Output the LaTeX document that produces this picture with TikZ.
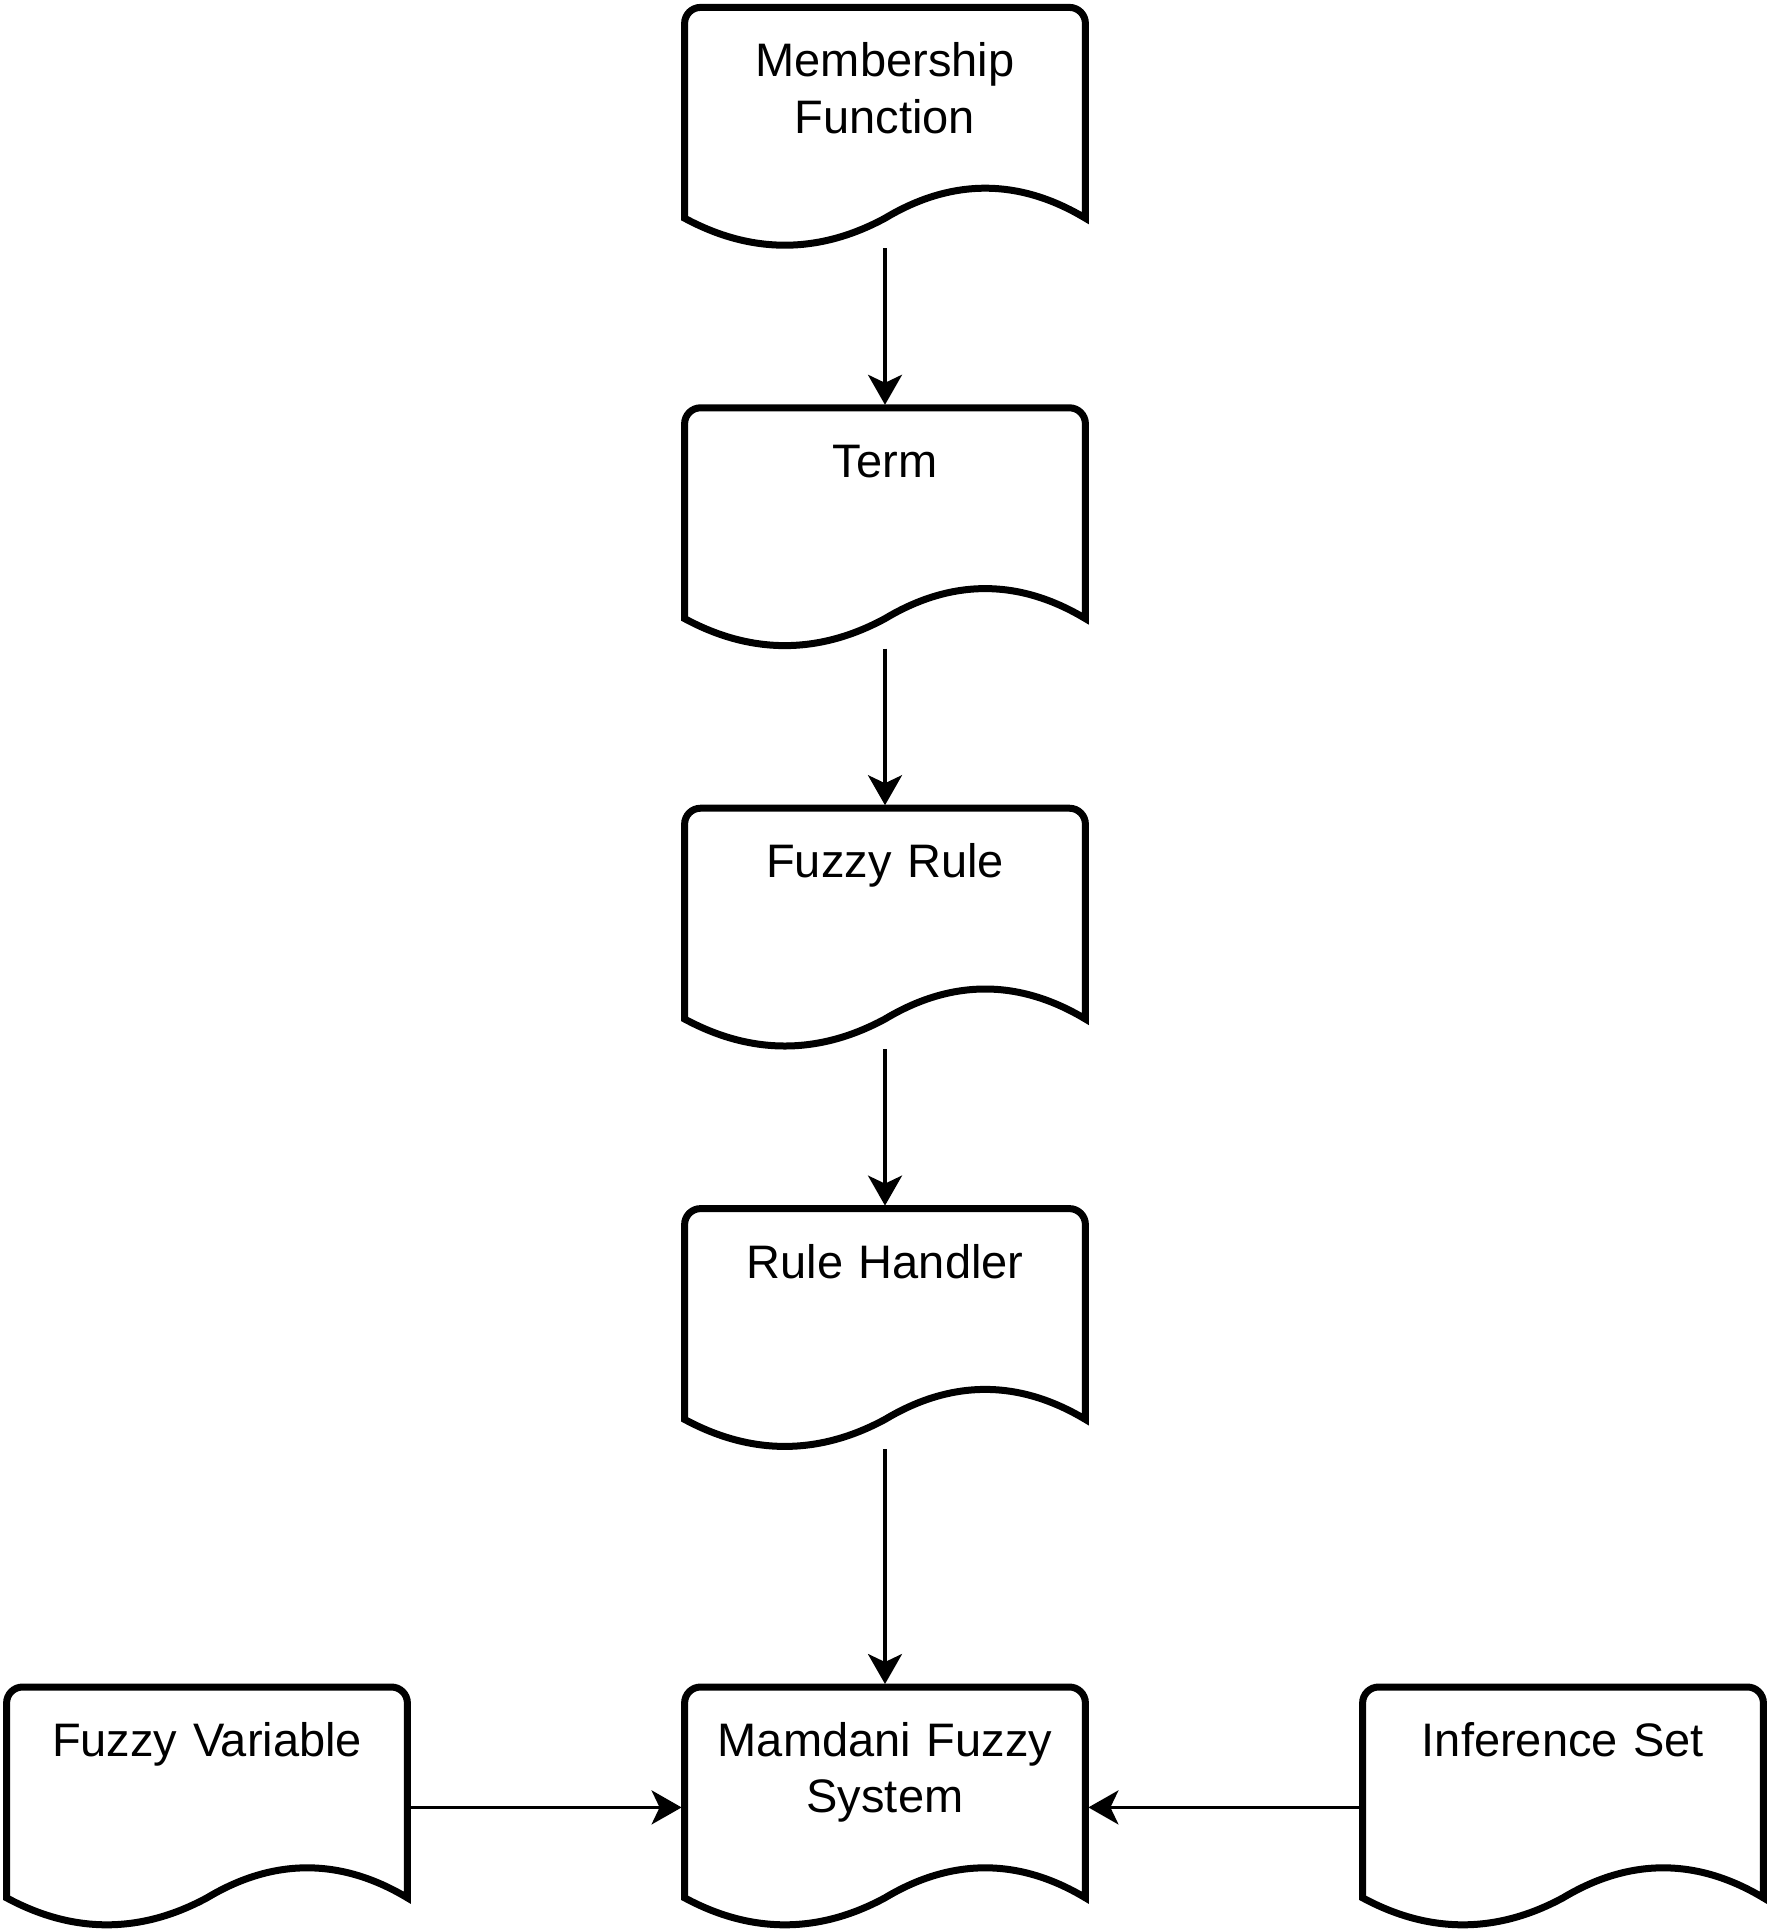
\documentclass[tikz,border=0pt]{standalone}
\usepackage{fontspec}
\setmainfont{Liberation Sans}
\usetikzlibrary{arrows.meta}
\usetikzlibrary{matrix}
\begin{document}
\begin{tikzpicture}
[doc/.style ={rectangle, inner sep=0pt,
text width=200pt, align=center,
minimum height=120pt, text height=34.5pt, text depth=85.5pt,
font=\fontsize{23.5}{28.2}\selectfont},
docline/.style ={draw, line width=3.5pt},
flow/.style ={draw, line width=1.75pt,
-{Stealth[length=15pt,width=17pt,inset=4pt]}, shorten >=1.5pt}]
\useasboundingbox (0,0) rectangle (886pt,-966pt);
\matrix [column sep=139pt,row sep=80pt,inner sep=0pt,anchor=north] at (442.5pt,-3.5pt)
{
&
\node [doc] (mf) {Membership\\Function};
& \\
% row 2
&
\node [doc] (term) {Term};
& \\
% row 3
&
\node [doc] (rule) {Fuzzy Rule};
& \\
% row 4
&
\node [doc] (hand) {Rule Handler};
& \\[39pt]
% row 5
\node [doc] (var) {Fuzzy Variable};
&
\node [doc] (mam) {Mamdani Fuzzy\\System};
&
\node [doc] (inf) {Inference Set}; \\
};
% document outlines
\foreach \n in {mf,term,rule,hand,var,mam,inf}
\draw [docline] ([yshift=15pt]\n.south west) -- ([yshift=-8pt]\n.north west)
  arc [start angle=180, end angle=90, radius=8pt] -- ([xshift=-8pt]\n.north east)
  arc [start angle=90, end angle=0, radius=8pt] -- ([yshift=15pt]\n.south east)
  .. controls ([shift={(-33.3pt,35pt)}]\n.south east) and ([shift={(33.3pt,35pt)}]\n.south) .. ([yshift=15pt]\n.south)
  .. controls ([shift={(-33.3pt,-3pt)}]\n.south) and ([shift={(33.3pt,-3pt)}]\n.south west) .. ([yshift=15pt]\n.south west)
  -- cycle;
\draw [flow] (mf) -- (term);
\draw [flow] (term) -- (rule);
\draw [flow] (rule) -- (hand);
\draw [flow] (hand) -- (mam);
\draw [flow] (var) -- (mam);
\draw [flow] (inf) -- (mam);
\end{tikzpicture}
\end{document}
